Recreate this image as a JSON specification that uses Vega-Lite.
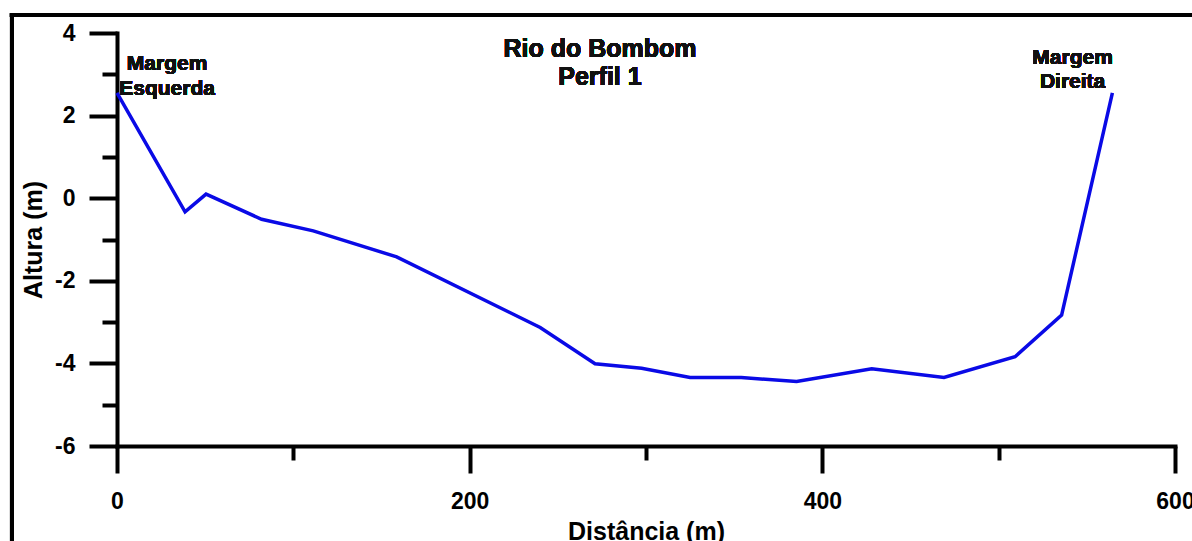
{
  "$schema": "https://vega.github.io/schema/vega-lite/v6.json",
  "autosize": {"type": "none"},
  "width": 1058,
  "height": 413,
  "padding": {"left": 117, "top": 33, "right": 17, "bottom": 95},
  "background": "white",
  "config": {
    "view": {"stroke": null},
    "font": "Liberation Sans",
    "axis": {
      "grid": false,
      "domainColor": "black",
      "tickColor": "black",
      "labelColor": "black",
      "titleColor": "black",
      "labelFont": "Liberation Sans",
      "titleFont": "Liberation Sans",
      "labelFontWeight": "bold",
      "titleFontWeight": "bold",
      "labelFontSize": 23,
      "titleFontSize": 25,
      "domainWidth": 4,
      "tickWidth": 4,
      "domainCap": "square",
      "tickCap": "butt"
    }
  },
  "data": {
    "values": [
      {"dist": 0, "alt": 2.55},
      {"dist": 38.6, "alt": -0.33},
      {"dist": 50.5, "alt": 0.1},
      {"dist": 82, "alt": -0.51},
      {"dist": 111.3, "alt": -0.79},
      {"dist": 158.6, "alt": -1.42},
      {"dist": 240, "alt": -3.13},
      {"dist": 271.1, "alt": -4.01},
      {"dist": 297.5, "alt": -4.12},
      {"dist": 325, "alt": -4.34},
      {"dist": 354, "alt": -4.34},
      {"dist": 385.4, "alt": -4.44},
      {"dist": 428, "alt": -4.13},
      {"dist": 469, "alt": -4.34},
      {"dist": 509.3, "alt": -3.84},
      {"dist": 535.7, "alt": -2.83},
      {"dist": 564.5, "alt": 2.55}
    ]
  },
  "resolve": {"axis": {"x": "independent", "y": "independent"}},
  "layer": [
    {
      "mark": {"type": "line", "color": "#0a0ae6", "strokeWidth": 3.5, "strokeJoin": "miter", "clip": false},
      "encoding": {
        "x": {"field": "dist", "type": "quantitative",
              "scale": {"domain": [0, 600], "nice": false, "zero": false},
              "axis": {"values": [0, 200, 400, 600], "tickSize": 27, "labelPadding": 17, "title": "Distância (m)", "titlePadding": 6, "labelFlush": false, "labelOverlap": false, "labelExpr": "'' + datum.value"}},
        "y": {"field": "alt", "type": "quantitative",
              "scale": {"domain": [-6, 4], "nice": false, "zero": false},
              "axis": {"values": [4, 2, 0, -2, -4, -6], "tickSize": 28, "labelPadding": 14, "title": "Altura (m)", "titlePadding": 8, "labelFlush": false, "labelOverlap": false, "labelExpr": "'' + datum.value"}},
        "order": {"field": "dist"}
      }
    },
    {
      "mark": {"type": "point", "opacity": 0},
      "encoding": {
        "x": {"field": "dist", "type": "quantitative",
              "scale": {"domain": [0, 600], "nice": false, "zero": false},
              "axis": {"orient": "bottom", "values": [100, 300, 500], "tickSize": 14, "labels": false, "domain": false, "title": null}},
        "y": {"field": "alt", "type": "quantitative",
              "scale": {"domain": [-6, 4], "nice": false, "zero": false},
              "axis": {"orient": "left", "values": [3, 1, -1, -3, -5], "tickSize": 15, "labels": false, "domain": false, "title": null}}
      }
    },
    {
      "mark": {"type": "rule", "color": "black", "strokeWidth": 4, "clip": false},
      "encoding": {
        "x": {"datum": -59.55, "type": "quantitative", "scale": {"domain": [0, 600], "nice": false, "zero": false}, "axis": null},
        "y": {"datum": 4.48, "type": "quantitative", "scale": {"domain": [-6, 4], "nice": false, "zero": false}, "axis": null},
        "y2": {"datum": -9}
      }
    },
    {
      "mark": {"type": "rule", "color": "black", "strokeWidth": 4, "clip": false},
      "encoding": {
        "x": {"datum": -60.7, "type": "quantitative", "scale": {"domain": [0, 600], "nice": false, "zero": false}, "axis": null},
        "x2": {"datum": 640},
        "y": {"datum": 4.436, "type": "quantitative", "scale": {"domain": [-6, 4], "nice": false, "zero": false}, "axis": null}
      }
    },
    {
      "mark": {"type": "text", "text": ["Rio do Bombom", "Perfil 1"], "fontSize": 25, "fontWeight": "bold", "font": "Liberation Sans", "align": "center", "baseline": "alphabetic", "lineHeight": 28.5, "color": "#111111", "clip": false},
      "encoding": {
        "x": {"datum": 273.9, "type": "quantitative", "scale": {"domain": [0, 600], "nice": false, "zero": false}, "axis": null},
        "y": {"datum": 3.426, "type": "quantitative", "scale": {"domain": [-6, 4], "nice": false, "zero": false}, "axis": null}
      }
    },
    {
      "mark": {"type": "text", "text": ["Margem", "Esquerda"], "fontSize": 21, "fontWeight": "bold", "font": "Liberation Sans", "align": "center", "baseline": "alphabetic", "lineHeight": 25, "color": "#111111", "clip": false},
      "encoding": {
        "x": {"datum": 28.4, "type": "quantitative", "scale": {"domain": [0, 600], "nice": false, "zero": false}, "axis": null},
        "y": {"datum": 3.104, "type": "quantitative", "scale": {"domain": [-6, 4], "nice": false, "zero": false}, "axis": null}
      }
    },
    {
      "mark": {"type": "text", "text": ["Margem", "Direita"], "fontSize": 21, "fontWeight": "bold", "font": "Liberation Sans", "align": "center", "baseline": "alphabetic", "lineHeight": 24.3, "color": "#111111", "clip": false},
      "encoding": {
        "x": {"datum": 541.9, "type": "quantitative", "scale": {"domain": [0, 600], "nice": false, "zero": false}, "axis": null},
        "y": {"datum": 3.249, "type": "quantitative", "scale": {"domain": [-6, 4], "nice": false, "zero": false}, "axis": null}
      }
    }
  ]
}
